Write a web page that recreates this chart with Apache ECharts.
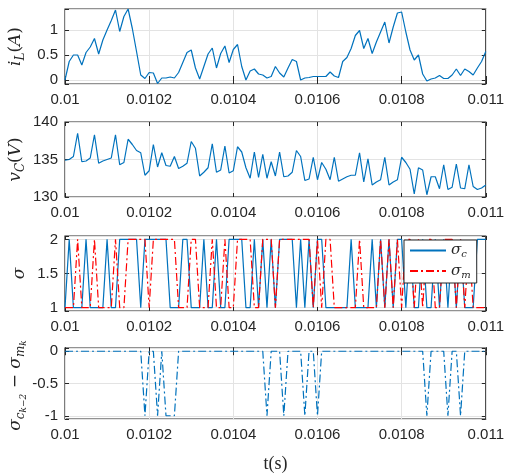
<!DOCTYPE html>
<html>
<head>
<meta charset="utf-8">
<script src="https://cdn.jsdelivr.net/npm/echarts@6/dist/echarts.min.js"></script>
<style>
html, body { margin: 0; padding: 0; background: #fff; }
#main { width: 507px; height: 474px; }
</style>
</head>
<body>
<div id="main"></div>
<script>
// sample instants: 0.01 s .. 0.011 s, step 1e-5
var tStart = 0.01, tStep = 0.00001;

var iL = [0, 0.37, 0.5, 0.5, 0.3, 0.55, 0.66, 0.83, 0.52, 0.8,
    1.0, 1.19, 1.4, 0.97, 1.27, 1.42, 1.03, 0.57, 0.1, 0.03,
    0.15, 0.14, -0.07, 0.04, 0.04, 0.06, 0.04, 0.15, 0.35, 0.55,
    0.6, 0.24, 0.02, 0.27, 0.52, 0.64, 0.24, 0.53, 0.68, 0.35,
    0.61, 0.71, 0.27, 0.0, 0.18, 0.22, 0.12, 0.1, 0.04, 0.07,
    0.27, 0.14, 0.06, 0.24, 0.41, 0.37, 0.0, 0.04, 0.05, 0.07,
    0.07, 0.07, 0.07, 0.16, 0.08, 0.05, 0.37, 0.45, 0.63, 0.89,
    0.99, 0.63, 0.83, 0.53, 0.76, 0.96, 1.16, 0.74, 1.06, 1.34,
    1.36, 0.96, 0.6, 0.4, 0.5, 0.12, -0.02, 0.02, 0.04, 0.09,
    0.03, 0.03, 0.1, 0.22, 0.09, 0.22, 0.17, 0.1, 0.24, 0.37,
    0.57];

var vC = [134.9, 135.0, 135.4, 138.5, 134.7, 134.8, 135.2, 138.3, 134.5, 134.8,
    135.0, 135.2, 138.3, 134.3, 134.6, 137.7, 137.0, 136.2, 135.9, 132.9,
    133.5, 137.0, 134.0, 135.9, 134.2, 134.1, 135.4, 133.8, 134.1, 134.5,
    137.4, 136.5, 132.8, 133.3, 133.9, 137.1, 133.3, 133.6, 136.8, 133.2,
    133.5, 136.7, 136.0, 133.9, 132.5, 136.0, 132.6, 135.7, 132.5, 134.7,
    132.8, 136.0, 132.7, 132.8, 133.3, 136.2, 135.4, 132.2, 132.4, 135.3,
    132.3, 134.6, 133.7, 132.3, 135.3, 132.1, 132.4, 132.7, 132.9, 132.9,
    135.9, 132.0, 135.1, 131.6, 132.0, 132.3, 135.3, 131.6, 132.0, 132.3,
    135.3, 134.6, 133.7, 130.4, 133.9, 133.6, 130.3, 132.7, 132.7, 131.1,
    134.3, 131.0, 131.3, 134.4, 131.2, 131.1, 134.3, 131.4, 131.0, 131.2,
    131.6];

var sigC = [1, 2, 1, 1, 1, 2, 1, 1, 1, 1,
    2, 1, 1, 2, 2, 2, 2, 2, 1, 2,
    2, 2, 2, 2, 2, 1, 1, 1, 2, 2,
    1, 1, 1, 2, 1, 1, 2, 1, 1, 2,
    2, 2, 2, 1, 1, 2, 1, 2, 1, 2,
    1, 2, 2, 2, 2, 1, 2, 1, 2, 1,
    2, 2, 1, 1, 1, 1, 1, 1, 2, 1,
    1, 1, 1, 2, 1, 2, 1, 2, 1, 2,
    2, 1, 2, 1, 1, 2, 1, 1, 2, 1,
    2, 1, 2, 1, 2, 1, 1, 1, 2, 2,
    2];

var sigM = [1, 1, 1, 2, 1, 1, 1, 2, 1, 1,
    1, 1, 2, 1, 1, 2, 2, 2, 2, 2,
    1, 2, 2, 2, 2, 2, 2, 1, 1, 1,
    2, 2, 1, 1, 1, 2, 1, 1, 2, 1,
    1, 2, 2, 2, 2, 1, 1, 2, 2, 2,
    1, 2, 2, 2, 2, 2, 2, 2, 2, 1,
    2, 1, 2, 2, 1, 1, 1, 1, 1, 1,
    2, 1, 1, 1, 1, 2, 1, 2, 1, 2,
    1, 2, 2, 1, 2, 1, 2, 2, 1, 1,
    2, 2, 2, 1, 2, 1, 2, 1, 1, 1,
    1];

var sigDiff = [0, 0, 0, 0, 0, 0, 0, 0, 0, 0,
    0, 0, 0, 0, 0, 0, 0, 0, 0, -1,
    0, 0, -1, 0, -1, -1, -1, 0, 0, 0,
    0, 0, 0, 0, 0, 0, 0, 0, 0, 0,
    0, 0, 0, 0, 0, 0, 0, 0, -1, 0,
    0, 0, -1, 0, 0, 0, 0, -1, 0, 0,
    -1, 0, 0, 0, 0, 0, 0, 0, 0, 0,
    0, 0, 0, 0, 0, 0, 0, 0, 0, 0,
    0, 0, 0, 0, 0, 0, -1, 0, 0, 0,
    0, -1, 0, 0, -1, 0, 0, 0, 0, 0,
    0];

var yRanges = [[-0.08, 1.42], [130, 140], [0.95, 2.05], [-1.05, 0.05]];
var ySplits = [3, 2, 2, 2];
var yTicks = [[0, 0.5, 1], [130, 135, 140], [1, 1.5, 2], [-1, -0.5, 0]];
var yNames = [
    '{i|i}{sub|L}{p|(}{i|A}{p|)}',
    '{i|v}{sub|C}{p|(}{i|V}{p|)}',
    '{i|σ}',
    '{i|σ}{sub|c}{ss|k−2}{p| − }{i|σ}{sub|m}{ss|k}'
];
var gridTops = [9, 122, 236, 348];
var nameX = [16, 16, 20, 16];

function withT(arr) {
    return arr.map(function (v, i) { return [tStart + i * tStep, v]; });
}

var axisColor = '#262626';
var richName = {
    i: { fontFamily: 'DejaVu Serif', fontStyle: 'italic', fontSize: 17, fill: axisColor },
    p: { fontFamily: 'DejaVu Serif', fontSize: 17, fill: axisColor },
    sub: { fontFamily: 'DejaVu Serif', fontStyle: 'italic', fontSize: 12, fill: axisColor, padding: [9, 0, 0, 0] },
    ss: { fontFamily: 'DejaVu Serif', fontStyle: 'italic', fontSize: 9, fill: axisColor, padding: [16, 0, 0, 0] }
};

var grids = [], xAxes = [], yAxes = [], names = [];
gridTops.forEach(function (top, g) {
    grids.push({ left: 65, right: 20, top: top, height: 75, show: true, borderColor: axisColor, borderWidth: 1.2 });
    xAxes.push({
        gridIndex: g, type: 'value', min: 0.01, max: 0.011, interval: 0.0002,
        axisLine: { show: false },
        axisTick: { inside: true, length: 4, lineStyle: { color: axisColor } },
        axisLabel: { color: axisColor, fontSize: 15, fontFamily: 'Liberation Sans', margin: 8,
            formatter: function (v) { return String(+v.toFixed(4)); } },
        splitLine: { show: true, lineStyle: { color: '#e3e3e3' } },
        name: g === 3 ? 't(s)' : '', nameLocation: 'middle', nameGap: 36,
        nameTextStyle: { fontFamily: 'Liberation Serif', fontSize: 18, color: axisColor }
    });
    xAxes.push({
        gridIndex: g, type: 'value', min: 0.01, max: 0.011, interval: 0.0002, position: 'top',
        axisLine: { show: false }, axisLabel: { show: false }, splitLine: { show: false },
        axisTick: { inside: true, length: 4, lineStyle: { color: axisColor } }
    });
    yAxes.push({
        gridIndex: g, type: 'value', min: yRanges[g][0], max: yRanges[g][1], splitNumber: ySplits[g],
        axisLine: { show: false },
        axisTick: { inside: true, length: 4, lineStyle: { color: axisColor } },
        axisLabel: { show: false },
        splitLine: { show: true, lineStyle: { color: '#e3e3e3' } }
    });
    yAxes.push({
        gridIndex: g, type: 'value', min: yRanges[g][0], max: yRanges[g][1], splitNumber: ySplits[g], position: 'right',
        axisLine: { show: false }, axisLabel: { show: false }, splitLine: { show: false },
        axisTick: { inside: true, length: 4, lineStyle: { color: axisColor } }
    });
    names.push({
        type: 'text', x: nameX[g], y: top + 37.5, rotation: Math.PI / 2, silent: true,
        style: { text: yNames[g], rich: richName, align: 'center', verticalAlign: 'middle' }
    });
});

var blue = '#0072bd', red = '#ff0000';
var dashDot = [8, 3, 2, 3];

var option = {
    animation: false,
    backgroundColor: '#fff',
    grid: grids,
    xAxis: xAxes,
    yAxis: yAxes,
    graphic: names,
    legend: {
        data: ['sc', 'sm'],
        left: 404, top: 240, orient: 'vertical',
        itemWidth: 36, itemHeight: 10, itemGap: 4,
        padding: [3, 6, 3, 5],
        backgroundColor: '#fff', borderColor: axisColor, borderWidth: 1,
        itemStyle: { opacity: 0 },
        formatter: function (n) { return n === 'sc' ? '{i|σ}{sub|c}' : '{i|σ}{sub|m}'; },
        textStyle: { rich: {
            i: { fontFamily: 'DejaVu Serif', fontStyle: 'italic', fontSize: 15, color: axisColor },
            sub: { fontFamily: 'DejaVu Serif', fontStyle: 'italic', fontSize: 10, color: axisColor, padding: [8, 0, 0, 0] }
        } }
    },
    series: [
        { type: 'line', xAxisIndex: 0, yAxisIndex: 0, data: withT(iL), symbol: 'none',
            lineStyle: { color: blue, width: 1.2 }, itemStyle: { color: blue } },
        { type: 'line', xAxisIndex: 2, yAxisIndex: 2, data: withT(vC), symbol: 'none',
            lineStyle: { color: blue, width: 1.2 }, itemStyle: { color: blue } },
        { name: 'sc', type: 'line', xAxisIndex: 4, yAxisIndex: 4, data: withT(sigC), symbol: 'none',
            lineStyle: { color: blue, width: 1.2 }, itemStyle: { color: blue } },
        { name: 'sm', type: 'line', xAxisIndex: 4, yAxisIndex: 4, data: withT(sigM), symbol: 'none',
            lineStyle: { color: red, width: 1.2, type: dashDot }, itemStyle: { color: red } },
        { type: 'line', xAxisIndex: 6, yAxisIndex: 6, data: withT(sigDiff), symbol: 'none',
            lineStyle: { color: blue, width: 1.2, type: dashDot }, itemStyle: { color: blue } }
    ]
};

var myChart = echarts.init(document.getElementById('main'));
myChart.setOption(option);

// y tick labels: placed through each axis scale (convertToPixel)
var tickTexts = [];
yTicks.forEach(function (ticks, g) {
    ticks.forEach(function (v) {
        var p = myChart.convertToPixel({ xAxisIndex: g * 2, yAxisIndex: g * 2 }, [0.01, v]);
        tickTexts.push({
            type: 'text', x: p[0] - 7, y: p[1], silent: true,
            style: { text: String(v), fill: axisColor, fontSize: 15, fontFamily: 'Liberation Sans',
                align: 'right', verticalAlign: 'middle' }
        });
    });
});
myChart.setOption({ graphic: names.concat(tickTexts) });

window.addEventListener('resize', function () {
    myChart.resize();
});
</script>
</body>
</html>
